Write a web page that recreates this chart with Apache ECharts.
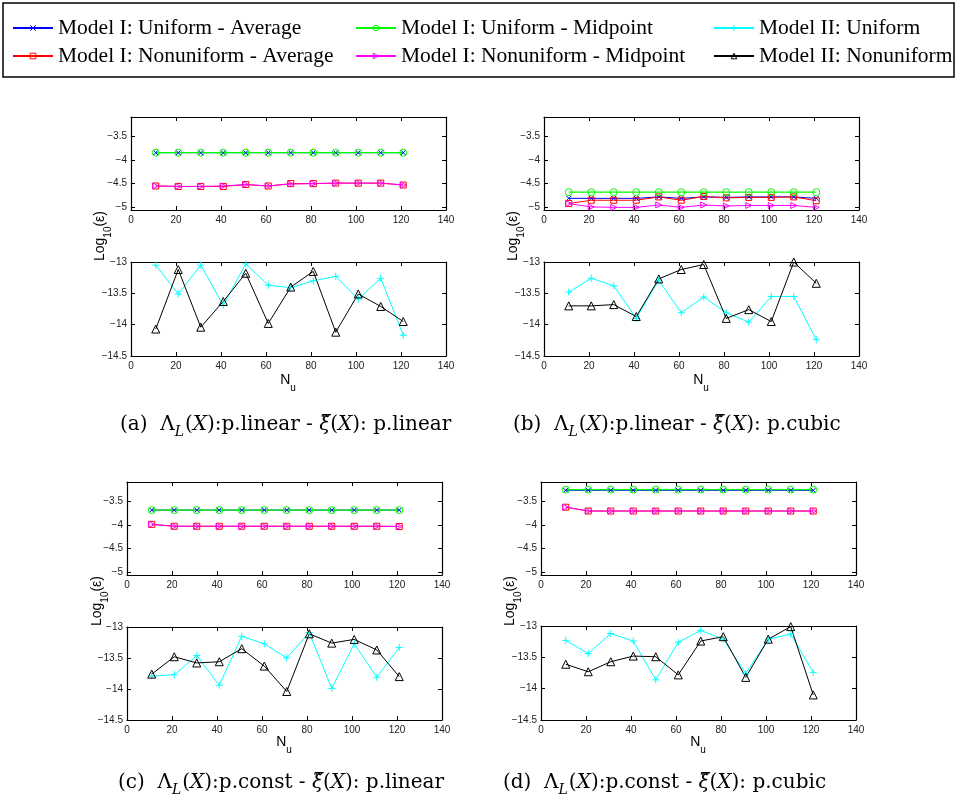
<!DOCTYPE html>
<html><head><meta charset="utf-8">
<script src="https://cdn.jsdelivr.net/npm/echarts@6/dist/echarts.min.js"></script>
<style>html,body{margin:0;padding:0;background:#fff}#c{width:957px;height:805px}</style>
</head><body><div id="c"></div>
<script>
// ---------- data ----------
const nu = [11,21,31,41,51,61,71,81,91,101,111,121];
const xTicks = [0,20,40,60,80,100,120,140];
const topTicks = [-5,-4.5,-4,-3.5];
const botTicks = [-14.5,-14,-13.5,-13];
const seriesNames = ['Model I: Uniform - Average','Model I: Uniform - Midpoint','Model II: Uniform',
                     'Model I: Nonuniform - Average','Model I: Nonuniform - Midpoint','Model II: Nonuniform'];

// panel (a)
const aUniAvg = [-3.85,-3.85,-3.85,-3.85,-3.85,-3.85,-3.85,-3.85,-3.85,-3.85,-3.85,-3.85];
const aUniMid = [-3.85,-3.85,-3.85,-3.85,-3.85,-3.85,-3.85,-3.85,-3.85,-3.85,-3.85,-3.85];
const aNonAvg = [-4.55,-4.56,-4.56,-4.56,-4.52,-4.55,-4.50,-4.50,-4.49,-4.49,-4.49,-4.53];
const aNonMid = [-4.55,-4.56,-4.56,-4.55,-4.52,-4.55,-4.51,-4.50,-4.49,-4.49,-4.49,-4.53];
const aIIUni  = [-13.05,-13.51,-13.05,-13.69,-13.03,-13.37,-13.41,-13.30,-13.23,-13.59,-13.26,-14.17];
const aIINon  = [-14.07,-13.12,-14.04,-13.63,-13.18,-13.98,-13.40,-13.15,-14.12,-13.51,-13.71,-13.95];
// panel (b)
const bUniAvg = [-4.81,-4.81,-4.81,-4.81,-4.78,-4.81,-4.78,-4.79,-4.78,-4.78,-4.78,-4.81];
const bUniMid = [-4.68,-4.68,-4.68,-4.68,-4.68,-4.68,-4.68,-4.68,-4.68,-4.68,-4.68,-4.68];
const bNonAvg = [-4.92,-4.85,-4.85,-4.85,-4.78,-4.85,-4.77,-4.80,-4.79,-4.79,-4.78,-4.86];
const bNonMid = [-4.92,-4.99,-5.00,-5.00,-4.95,-5.00,-4.95,-4.97,-4.96,-4.96,-4.96,-5.00];
const bIIUni  = [-13.48,-13.26,-13.38,-13.90,-13.29,-13.81,-13.56,-13.81,-13.96,-13.55,-13.55,-14.24];
const bIINon  = [-13.70,-13.70,-13.68,-13.87,-13.27,-13.12,-13.04,-13.90,-13.76,-13.95,-13.00,-13.34];
// panel (c)
const cUniAvg = [-3.69,-3.69,-3.69,-3.69,-3.69,-3.69,-3.69,-3.69,-3.69,-3.69,-3.69,-3.69];
const cUniMid = [-3.69,-3.69,-3.69,-3.69,-3.69,-3.69,-3.69,-3.69,-3.69,-3.69,-3.69,-3.69];
const cNonAvg = [-3.99,-4.03,-4.03,-4.03,-4.03,-4.03,-4.03,-4.03,-4.03,-4.03,-4.03,-4.035];
const cNonMid = [-3.99,-4.03,-4.03,-4.03,-4.03,-4.03,-4.03,-4.03,-4.03,-4.03,-4.03,-4.035];
const cIIUni  = [-13.79,-13.77,-13.46,-13.94,-13.15,-13.27,-13.50,-13.09,-13.99,-13.27,-13.81,-13.33];
const cIINon  = [-13.76,-13.48,-13.58,-13.56,-13.35,-13.63,-14.04,-13.11,-13.26,-13.20,-13.37,-13.80];
// panel (d)
const dUniAvg = [-3.275,-3.275,-3.275,-3.275,-3.275,-3.275,-3.275,-3.275,-3.275,-3.275,-3.275,-3.275];
const dUniMid = [-3.26,-3.26,-3.26,-3.26,-3.26,-3.26,-3.26,-3.26,-3.26,-3.26,-3.26,-3.26];
const dNonAvg = [-3.63,-3.71,-3.71,-3.71,-3.71,-3.71,-3.71,-3.71,-3.71,-3.71,-3.71,-3.71];
const dNonMid = [-3.63,-3.71,-3.71,-3.71,-3.71,-3.71,-3.71,-3.71,-3.71,-3.71,-3.71,-3.71];
const dIIUni  = [-13.23,-13.44,-13.12,-13.24,-13.86,-13.26,-13.07,-13.21,-13.76,-13.21,-13.13,-13.74];
const dIINon  = [-13.61,-13.73,-13.57,-13.48,-13.49,-13.78,-13.24,-13.17,-13.82,-13.21,-13.01,-14.10];

const captionLetters = ['(a)','(b)','(c)','(d)'];
const captionLambda = ['p.linear','p.linear','p.const','p.const'];
const captionXi = ['p.linear','p.cubic','p.linear','p.cubic'];

// ---------- layout / styles ----------
const panels = [
  {top:{left:131,top:117,h:93}, bot:{left:131,top:262,h:94}, data:[aUniAvg,aNonAvg,aUniMid,aNonMid,aIIUni,aIINon], ylab:[100,236], xlab:[288,380], cap:[120,425]},
  {top:{left:544,top:117,h:93}, bot:{left:544,top:262,h:94}, data:[bUniAvg,bNonAvg,bUniMid,bNonMid,bIIUni,bIINon], ylab:[513,236], xlab:[701,380], cap:[513,425]},
  {top:{left:127,top:482,h:93}, bot:{left:127,top:627,h:93}, data:[cUniAvg,cNonAvg,cUniMid,cNonMid,cIIUni,cIINon], ylab:[97,601], xlab:[284,742], cap:[118,783]},
  {top:{left:541,top:482,h:93}, bot:{left:541,top:626,h:94}, data:[dUniAvg,dNonAvg,dUniMid,dNonMid,dIIUni,dIINon], ylab:[510,601], xlab:[698,742], cap:[503,783]}
];
const W = 315;
// order of series drawing: uniAvg, nonAvg, uniMid, nonMid, IIUni, IINon
const styles = [
  {name:seriesNames[0], color:'#0000ff', symbol:'path://M0,0L10,10M10,0L0,10', size:5, lw:1},
  {name:seriesNames[3], color:'#ff0000', symbol:'rect', size:6, lw:1},
  {name:seriesNames[1], color:'#00ff00', symbol:'circle', size:7, lw:1.3},
  {name:seriesNames[4], color:'#ff00ff', symbol:'path://M0,0L10,5L0,10Z', size:6, lw:1},
  {name:seriesNames[2], color:'#00ffff', symbol:'path://M5,0L5,10M0,5L10,5', size:7, lw:1},
  {name:seriesNames[5], color:'#000000', symbol:'triangle', size:8, lw:1}
];

const grids = [], xAxes = [], yAxes = [], series = [], graphics = [];
const fmt = v => String(v).replace('-', '\u2212');
const axisLineStyle = {color:'#000', width:1.2};
const labelStyle = {fontFamily:'Liberation Sans', fontSize:10, color:'#222', formatter: fmt};

panels.forEach((p, pi) => {
  ['top','bot'].forEach((part) => {
    const g = p[part];
    const gi = grids.length;
    grids.push({left:g.left, top:g.top, width:W, height:g.h, show:false});
    const isTop = part === 'top';
    const ymin = isTop ? -5.055 : -14.5, ymax = isTop ? -3.1 : -13;
    const yt = isTop ? topTicks : botTicks;
    const xBase = {type:'value', gridIndex:gi, min:0, max:140, interval:20, splitLine:{show:false},
      axisLine:{show:true, onZero:false, lineStyle:axisLineStyle}, axisTick:{show:true, inside:true, length:4, lineStyle:{color:'#000'}}};
    xAxes.push(Object.assign({}, xBase, {position:'bottom', axisLabel:{show:true, margin:5, fontFamily:'Liberation Sans', fontSize:10, color:'#222'}}));
    xAxes.push(Object.assign({}, xBase, {position:'top', axisLabel:{show:false}}));
    const yBase = {type:'value', gridIndex:gi, min:ymin, max:ymax, splitLine:{show:false},
      axisLine:{show:true, onZero:false, lineStyle:axisLineStyle},
      axisTick:{show:true, inside:true, length:4, customValues:yt, lineStyle:{color:'#000'}}};
    yAxes.push(Object.assign({}, yBase, {position:'left', axisLabel:Object.assign({show:true, margin:4, customValues:yt}, labelStyle)}));
    yAxes.push(Object.assign({}, yBase, {position:'right', axisLabel:{show:false}}));
    const xi = xAxes.length - 2, yi = yAxes.length - 2;
    const idxs = isTop ? [0,1,2,3] : [4,5];
    idxs.forEach(si => {
      const st = styles[si];
      series.push({
        type:'line', name:st.name, xAxisIndex:xi, yAxisIndex:yi,
        data: nu.map((x, i) => [x, p.data[si][i]]),
        symbol: st.symbol, symbolSize: st.size, showSymbol:true,
        lineStyle:{color:st.color, width:st.lw},
        itemStyle:{color:'rgba(255,255,255,0)', borderColor:st.color, borderWidth:1},
        color: st.color,
        animation:false, silent:true
      });
    });
  });
  const subRich = {fontFamily:'Liberation Sans', fontSize:10, lineHeight:10, verticalAlign:'top', padding:[10,0,0,0]};
  // y label
  graphics.push({type:'text', x:p.ylab[0], y:p.ylab[1], rotation:Math.PI/2,
    style:{text:'Log{s|10}(\u03b5)', font:'14px "Liberation Sans"', fill:'#000', align:'center', verticalAlign:'middle',
      rich:{s:subRich}}});
  // x label
  graphics.push({type:'text', x:p.xlab[0], y:p.xlab[1],
    style:{text:'N{s|u}', font:'14px "Liberation Sans"', fill:'#000', align:'center', verticalAlign:'middle',
      rich:{s:subRich}}});
  // caption
  graphics.push({type:'text', x:p.cap[0], y:p.cap[1],
    style:{text: captionLetters[pi] + '  \u039b{sub|L}({it|X}):' + captionLambda[pi] + ' - {xi|\u03be\u0303}({it|X}): ' + captionXi[pi],
      font:'20px "DejaVu Serif"', fill:'#000', align:'left', verticalAlign:'middle',
      rich:{sub:{fontFamily:'DejaVu Serif', fontSize:14, fontStyle:'italic', lineHeight:14, verticalAlign:'top', padding:[10,1,0,0]},
            it:{fontFamily:'DejaVu Serif', fontSize:20, fontStyle:'italic'},
            xi:{fontFamily:'DejaVu Serif', fontSize:20, fontStyle:'italic'}}}});
});

// legend frame
graphics.push({type:'rect', shape:{x:3, y:3, width:951, height:74}, style:{fill:'none', stroke:'#000', lineWidth:1.5}, z:0});

const legendCommon = {orient:'horizontal', itemWidth:40, itemHeight:7, itemGap:0, padding:0, selectedMode:false,
  textStyle:{fontFamily:'Liberation Serif', fontSize:21.5, color:'#000', padding:[0,0,0,0]}};
const legPos = [[12,17],[355,17],[713,17],[12,45],[355,45],[713,45]];
const legColor = {};
styles.forEach(s => legColor[s.name] = s.color);
const legends = seriesNames.map((n, i) => Object.assign({}, legendCommon, {
  data:[{name:n, itemStyle:{color:'rgba(255,255,255,0)', borderColor:legColor[n], borderWidth:1}}],
  left:legPos[i][0], top:legPos[i][1]}));

const chart = echarts.init(document.getElementById('c'), null, {renderer:'canvas'});
chart.setOption({
  animation:false,
  backgroundColor:'#fff',
  legend: legends,
  grid: grids,
  xAxis: xAxes,
  yAxis: yAxes,
  series: series,
  graphic: graphics
});
</script>
</body></html>
